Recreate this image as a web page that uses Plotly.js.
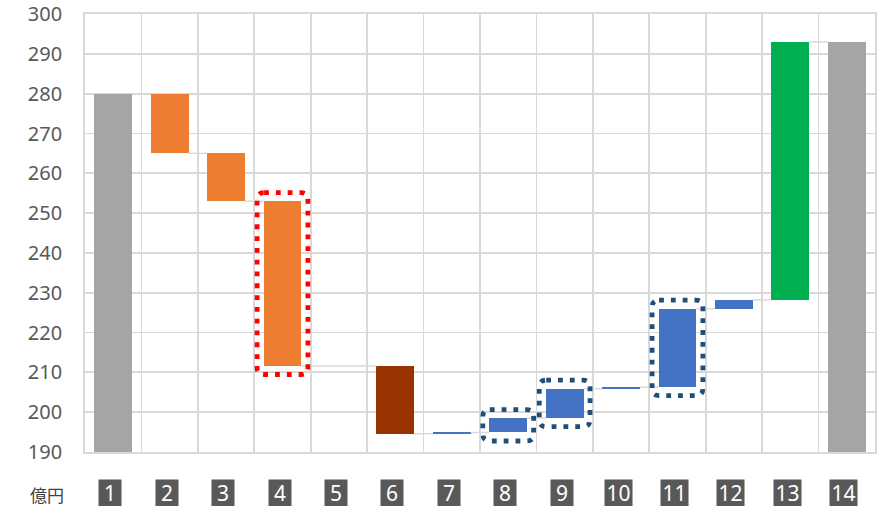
<!DOCTYPE html>
<html><head><meta charset="utf-8">
<script src="https://cdn.plot.ly/plotly-3.0.1.min.js"></script>
<style>html,body{margin:0;padding:0;background:#fff}#c{width:879px;height:506px}</style>
</head><body><div id="c"></div>
<script>
// ---- data ----
const categories = ['1','2','3','4','5','6','7','8','9','10','11','12','13','14'];
const measures   = ['total','relative','relative','relative','relative','relative','relative','relative','relative','relative','relative','relative','relative','total'];
const changes    = [280, -15, -12, -41.4, 0, -17.0, 0.3, 3.6, 7.4, 0.4, 19.7, 2.2, 64.8, 0];
const barColors  = ['#a5a5a5','#ed7d31','#ed7d31','#ed7d31','#ed7d31','#993300','#4472c4','#4472c4','#4472c4','#4472c4','#4472c4','#4472c4','#00b050','#a5a5a5'];
const highlightRed  = ['4'];
const highlightBlue = ['8','9','11'];
const unitLabel = '億円';
const yTicks = [190,200,210,220,230,240,250,260,270,280,290,300];

// ---- compute waterfall bases ----
const xs = categories.map((c,i)=>i+1);
const bases = [], heights = [], ends = [];
let level = 0;
changes.forEach((v,i)=>{
  if (measures[i]==='total') {
    if (i>0) v = level;
    bases.push(0); heights.push(v); level = v;
  } else {
    const s = level, e = level + v;
    bases.push(Math.min(s,e)); heights.push(Math.abs(v)); level = e;
  }
  ends.push(level);
});

const BW = 0.67, HB = BW/2;
const cx = [], cy = [];
const nonEmpty = xs.filter((x,i)=>heights[i]!==0);
for (let k=0;k<nonEmpty.length-1;k++){
  const a = nonEmpty[k], b = nonEmpty[k+1];
  const lv = ends[a-1];
  cx.push(a+HB, b-HB, null); cy.push(lv, lv, null);
}

const traces = [
  {type:'scatter', mode:'lines', x:cx, y:cy, line:{color:'#d9d9d9', width:1.5}, hoverinfo:'skip', showlegend:false},
  {type:'bar', x:xs, y:heights, base:bases, width:BW, marker:{color:barColors, line:{width:0}}, showlegend:false, hoverinfo:'skip'}
];

function frame(cat, color){
  const i = categories.indexOf(cat);
  const x = i+1;
  const padX = 6.5/56.43, padY = 8.5/3.98;
  const x0 = x-HB-padX, x1 = x+HB+padX;
  const y0 = bases[i]-padY, y1 = bases[i]+heights[i]+padY;
  const rx = 7/56.43, ry = 7/3.98;
  const p = `M ${x0+rx},${y1} L ${x1-rx},${y1} Q ${x1},${y1} ${x1},${y1-ry} L ${x1},${y0+ry} Q ${x1},${y0} ${x1-rx},${y0} L ${x0+rx},${y0} Q ${x0},${y0} ${x0},${y0+ry} L ${x0},${y1-ry} Q ${x0},${y1} ${x0+rx},${y1} Z`;
  return {type:'path', xref:'x', yref:'y', path:p, line:{color:color, width:4.8, dash:'4.8px,7px'}, layer:'above'};
}
const shapes = highlightRed.map(c=>frame(c,'#ff0000')).concat(highlightBlue.map(c=>frame(c,'#1f4e79')));

const annotations = categories.map((c,i)=>({
  x: i+1, y: -(493-452)/438, xref:'x', yref:'paper', xshift:-3,
  text: c, showarrow:false, bgcolor:'#595959',
  width: c.length>1 ? 27 : 22, height: 26, borderpad:0,
  font:{family:'Liberation Sans Narrow, Noto Sans, sans-serif', size:21, color:'#ffffff'},
  xanchor:'center', yanchor:'middle'
}));
annotations.push({x:(47-85)/790, y:-(494-452)/438, xref:'paper', yref:'paper', text:unitLabel, showarrow:false,
  xanchor:'center', yanchor:'middle',
  font:{family:'Noto Sans CJK JP, sans-serif', size:17, color:'#404040'}});

const layout = {
  width:879, height:506,
  margin:{l:85, r:4, t:14, b:54},
  paper_bgcolor:'#ffffff', plot_bgcolor:'#ffffff',
  bargap:0,
  xaxis:{type:'linear', range:[0.5,14.5], showticklabels:false, showgrid:false, zeroline:false,
    showline:true, mirror:true, linecolor:'#d9d9d9', linewidth:1.8,
    minor:{tick0:0.5, dtick:1, showgrid:true, gridcolor:'#d9d9d9', gridwidth:1.8, ticks:''}},
  yaxis:{range:[190,300.02], tickvals:yTicks, ticktext:yTicks.map(String), showgrid:true, gridcolor:'#d9d9d9', gridwidth:1.8,
    zeroline:false, showline:true, mirror:true, linecolor:'#d9d9d9', linewidth:1.8, ticks:'', ticklabelstandoff:17,
    ticklabeloverflow:'allow',
    tickfont:{family:'Noto Sans, sans-serif', size:20, color:'#595959'}},
  shapes: shapes,
  annotations: annotations,
  showlegend:false
};
Plotly.newPlot('c', traces, layout, {displayModeBar:false, staticPlot:true});
</script></body></html>
